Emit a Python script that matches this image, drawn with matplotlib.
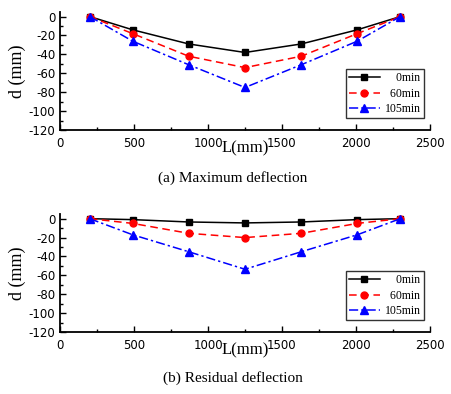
import matplotlib
matplotlib.use("Agg")
import matplotlib.pyplot as plt
from matplotlib.ticker import MultipleLocator

plt.rcParams["axes.unicode_minus"] = False

# span positions (mm)
L = [200, 490, 870, 1250, 1630, 2010, 2300]

# (a) maximum deflection
max_0 = [0, -14, -29, -38, -29, -14, 0]
max_60 = [0, -18, -42, -54, -42, -18, 0]
max_105 = [0, -26, -51, -75, -51, -26, 0]

# (b) residual deflection
res_0 = [0, -1, -3.5, -4.5, -3.5, -1, 0]
res_60 = [0, -5, -15.5, -20, -15.5, -5, 0]
res_105 = [0, -17, -35, -53.5, -35, -17, 0]

labels = ["    0min", "  60min", "105min"]
captions = ["(a) Maximum deflection", "(b) Residual deflection"]

serif = "Liberation Serif"

fig = plt.figure(figsize=(4.52, 3.94), dpi=100)
ax_a = fig.add_axes([0.133, 0.670, 0.818, 0.300])
ax_b = fig.add_axes([0.133, 0.157, 0.818, 0.300])

for ax, data, cap, cap_y in [(ax_a, (max_0, max_60, max_105), captions[0], 0.548),
                             (ax_b, (res_0, res_60, res_105), captions[1], 0.040)]:
    ax.plot(L, data[0], color="black", ls="-", lw=1.1, marker="s", ms=4, label=labels[0])
    ax.plot(L, data[1], color="red", ls=(0, (5, 3)), lw=1.1, marker="o", ms=5, label=labels[1])
    ax.plot(L, data[2], color="blue", ls=(0, (6, 2, 1.5, 2)), lw=1.1, marker="^", ms=6, label=labels[2])

    ax.set_xlim(0, 2500)
    ax.set_ylim(-120, 5)
    ax.spines["top"].set_visible(False)
    ax.spines["right"].set_visible(False)
    ax.spines["left"].set_linewidth(1.3)
    ax.spines["bottom"].set_linewidth(1.3)
    ax.xaxis.set_major_locator(MultipleLocator(500))
    ax.xaxis.set_minor_locator(MultipleLocator(250))
    ax.yaxis.set_major_locator(MultipleLocator(20))
    ax.yaxis.set_minor_locator(MultipleLocator(10))
    ax.tick_params(which="major", direction="in", length=4, width=1, labelsize=8.5)
    ax.tick_params(axis="x", which="major", pad=5)
    ax.tick_params(which="minor", direction="in", length=2.5, width=1)

    ax.set_ylabel("d (mm)", fontfamily=serif, fontsize=13, labelpad=2)
    ax.set_xlabel("L(mm)", fontfamily=serif, fontsize=12, labelpad=-7)

    leg = ax.legend(loc="lower right", bbox_to_anchor=(0.983, 0.10), frameon=True,
                    fancybox=False, edgecolor="black", handlelength=2.6,
                    prop={"family": serif, "size": 8.5}, borderpad=0.25,
                    labelspacing=0.3, handletextpad=0.4, borderaxespad=0)
    leg.get_frame().set_linewidth(1)

    fig.text(0.515, cap_y, cap, ha="center", va="center", fontfamily=serif, fontsize=11)

fig.savefig("out.png", dpi=100)
